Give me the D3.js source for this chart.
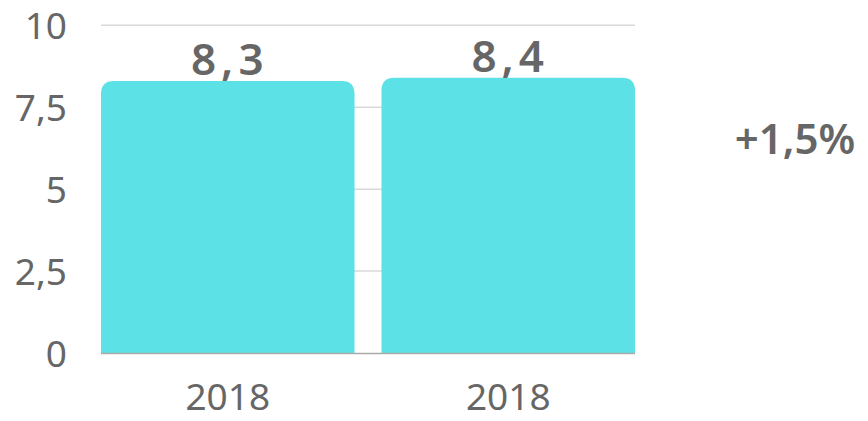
<!DOCTYPE html>
<html>
<head>
<meta charset="utf-8">
<script src="https://cdn.jsdelivr.net/npm/d3@7"></script>
<style>
  body { margin: 0; background: #fff; }
  text { font-family: "Noto Sans", sans-serif; fill: #666; }
</style>
</head>
<body>
<div id="chart"></div>
<script>
// data
const categories = ["2018", "2018 "];
const values = [8.3, 8.4];
const valueLabels = ["8,3", "8,4"];
const yTicks = [0, 2.5, 5, 7.5, 10];
const yTickLabels = ["0", "2,5", "5", "7,5", "10"];
const changeLabel = "+1,5%";

const width = 868, height = 421;
const plotLeft = 101, plotRight = 635, plotTop = 25.3, plotBottom = 353;

const svg = d3.select("#chart").append("svg")
  .attr("width", width)
  .attr("height", height);

const x = d3.scaleBand().domain(categories).range([plotLeft, plotRight]).paddingInner(0.096).paddingOuter(0);
const y = d3.scaleLinear().domain([0, 10]).range([plotBottom, plotTop]);

// gridlines
svg.append("g")
  .selectAll("line")
  .data(yTicks.slice(1))
  .join("line")
  .attr("x1", plotLeft).attr("x2", plotRight)
  .attr("y1", d => y(d)).attr("y2", d => y(d))
  .attr("stroke", "#d9d9d9")
  .attr("stroke-width", 1.5);

// y tick labels
svg.append("g")
  .selectAll("text")
  .data(yTicks)
  .join("text")
  .attr("x", 67)
  .attr("y", d => y(d) + 14)
  .attr("text-anchor", "end")
  .style("font-size", "37px")
  .text((d, i) => yTickLabels[i]);

// bars with rounded top corners
const r = 13;
function barPath(x0, w, yTop, yBase) {
  return `M${x0},${yBase} V${yTop + r} Q${x0},${yTop} ${x0 + r},${yTop} H${x0 + w - r} Q${x0 + w},${yTop} ${x0 + w},${yTop + r} V${yBase} Z`;
}
svg.append("g")
  .selectAll("path")
  .data(values)
  .join("path")
  .attr("d", (d, i) => barPath(x(categories[i]), x.bandwidth(), y(d), y(0)))
  .attr("fill", "#5ce1e6");

// baseline
svg.append("line")
  .attr("x1", plotLeft).attr("x2", plotRight)
  .attr("y1", y(0) + 0.5).attr("y2", y(0) + 0.5)
  .attr("stroke", "#aaa")
  .attr("stroke-width", 1.5);

// value labels
svg.append("g")
  .selectAll("text")
  .data(values)
  .join("text")
  .attr("x", (d, i) => x(categories[i]) + x.bandwidth() / 2 + 2)
  .attr("y", d => y(d) - 6)
  .attr("text-anchor", "middle")
  .style("font-size", "44px")
  .style("font-weight", "600")
  .style("letter-spacing", "5px")
  .text((d, i) => valueLabels[i]);

// x labels
svg.append("g")
  .selectAll("text")
  .data(categories)
  .join("text")
  .attr("x", d => x(d) + x.bandwidth() / 2)
  .attr("y", 410)
  .attr("text-anchor", "middle")
  .style("font-size", "37px")
  .text(d => d.trim());

// change annotation
svg.append("text")
  .attr("x", 795)
  .attr("y", 154)
  .attr("text-anchor", "middle")
  .style("font-size", "42px")
  .style("font-weight", "600")
  .text(changeLabel);
</script>
</body>
</html>
